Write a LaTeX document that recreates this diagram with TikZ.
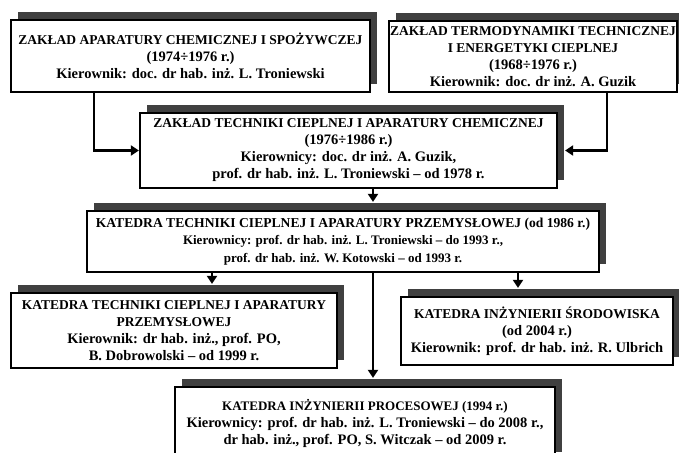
\documentclass[tikz,border=0pt]{standalone}
\usepackage{fontspec}
\setmainfont{Liberation Serif}
\usetikzlibrary{arrows.meta,shadows,calc}

\newcommand{\capsf}{\fontsize{13.5}{17}\selectfont}

\begin{document}
\begin{tikzpicture}[x=1pt,y=-1pt,
    >={Triangle[length=8pt,width=10pt]},
    unit/.style={draw,line width=2.2pt,fill=white,align=center,inner sep=1pt,
      drop shadow={shadow xshift=7pt,shadow yshift=8pt,fill=black!75,opacity=1},
      font=\bfseries\fontsize{14.5}{17}\selectfont},
    tight/.style={font=\bfseries\fontsize{13}{17.5}\selectfont},
    link/.style={->,line width=2.6pt},
    toshade/.style={link,shorten >=8pt},
  ]
  \useasboundingbox (0,0) rectangle (679,452);
  \clip (0,0) rectangle (679,452);
  % zaklady (1968--1986)
  \node[unit,minimum width=359pt,minimum height=72pt] (zap) at (190.5,56)
    {{\capsf ZAKŁAD APARATURY CHEMICZNEJ I SPOŻYWCZEJ}\\(1974÷1976 r.)\\Kierownik: doc. dr hab. inż. L. Troniewski};
  \node[unit,minimum width=288pt,minimum height=71pt] (ztd) at (533,56.5)
    {{\capsf ZAKŁAD TERMODYNAMIKI TECHNICZNEJ}\\{\capsf I ENERGETYKI CIEPLNEJ}\\(1968÷1976 r.)\\Kierownik: doc. dr inż. A. Guzik};
  \node[unit,minimum width=417pt,minimum height=75pt] (ztc) at (348.5,150.5)
    {{\capsf ZAKŁAD TECHNIKI CIEPLNEJ I APARATURY CHEMICZNEJ}\\(1976÷1986 r.)\\Kierownicy: doc. dr inż. A. Guzik,\\prof. dr hab. inż. L. Troniewski -- od 1978 r.};
  % katedry
  \node[unit,tight,minimum width=512pt,minimum height=61pt] (ktc) at (343,241.5)
    {{\fontsize{13.6}{17.5}\selectfont KATEDRA TECHNIKI CIEPLNEJ I APARATURY PRZEMYSŁOWEJ (od 1986 r.)}\\Kierownicy: prof. dr hab. inż. L. Troniewski -- do 1993 r.,\\prof. dr hab. inż. W. Kotowski -- od 1993 r.};
  \node[unit,minimum width=326pt,minimum height=75pt] (ktp) at (174,330.5)
    {{\capsf KATEDRA TECHNIKI CIEPLNEJ I APARATURY}\\{\capsf PRZEMYSŁOWEJ}\\Kierownik: dr hab. inż., prof. PO,\\B. Dobrowolski -- od 1999 r.};
  \node[unit,minimum width=272pt,minimum height=68pt] (kis) at (537,331)
    {{\capsf KATEDRA INŻYNIERII ŚRODOWISKA}\\(od 2004 r.)\\Kierownik: prof. dr hab. inż. R. Ulbrich};
  \node[unit,minimum width=380pt,minimum height=73pt] (kip) at (365,423.5)
    {{\fontsize{13}{17}\selectfont KATEDRA INŻYNIERII PROCESOWEJ (1994 r.)}\\Kierownicy: prof. dr hab. inż. L. Troniewski -- do 2008 r.,\\dr hab. inż., prof. PO, S. Witczak -- od 2009 r.};
  % polaczenia
  \draw[link] ([xshift=-96.5pt]zap.south) |- (ztc.west);
  \draw[link] ([xshift=74pt]ztd.south) |- ([xshift=7pt]ztc.east);
  \draw[toshade] ([xshift=24.5pt]ztc.south) -- ([xshift=30pt]ktc.north);
  \draw[toshade] ([xshift=-131pt]ktc.south) -- ([xshift=38pt]ktp.north);
  \draw[toshade] ([xshift=175pt]ktc.south) -- ([xshift=-19pt]kis.north);
  \draw[toshade] ([xshift=30pt]ktc.south) -- ([xshift=8pt]kip.north);
\end{tikzpicture}
\end{document}
